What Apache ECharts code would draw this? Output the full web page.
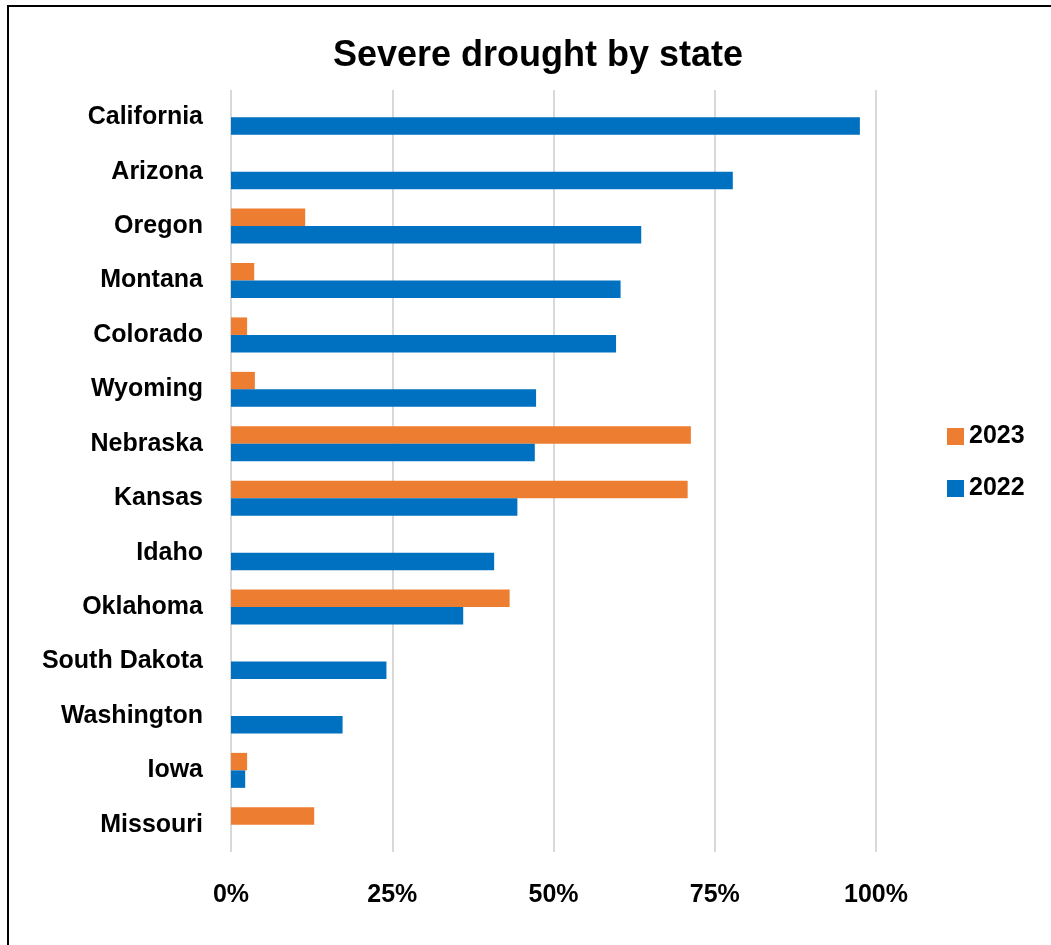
<!DOCTYPE html>
<html>
<head>
<meta charset="utf-8">
<script src="https://cdn.jsdelivr.net/npm/echarts@6/dist/echarts.min.js"></script>
<style>
html, body { margin: 0; padding: 0; background: #fff; }
#main { width: 1051px; height: 945px; }
</style>
</head>
<body>
<div id="main"></div>
<script>
// 州名（自上而下）
var states = ["California", "Arizona", "Oregon", "Montana", "Colorado", "Wyoming", "Nebraska",
	"Kansas", "Idaho", "Oklahoma", "South Dakota", "Washington", "Iowa", "Missouri"];
// 2023 年严重干旱比例 (%)
var data2023 = [0, 0, 11.5, 3.6, 2.5, 3.7, 71.3, 70.8, 0, 43.2, 0, 0, 2.5, 12.9];
// 2022 年严重干旱比例 (%)
var data2022 = [97.5, 77.8, 63.6, 60.4, 59.7, 47.3, 47.1, 44.4, 40.8, 36, 24.1, 17.3, 2.2, 0];
var xTicks = [0, 25, 50, 75, 100];

var FONT = "'Liberation Sans', Arial, sans-serif";

var myChart = echarts.init(document.getElementById('main'));

option = {
	backgroundColor: '#fff',
	animation: false,
	title: {
		text: 'Severe drought by state',
		left: 533,
		top: 33,
		textAlign: 'center',
		textStyle: { fontFamily: FONT, fontSize: 36, fontWeight: 'bold', color: '#000' }
	},
	legend: {
		orient: 'vertical',
		left: 942,
		top: 419,
		itemWidth: 17,
		itemHeight: 17,
		itemGap: 27,
		icon: 'rect',
		data: ['2023', '2022'],
		textStyle: { fontFamily: FONT, fontSize: 25, fontWeight: 'bold', color: '#000' }
	},
	graphic: [{
		type: 'rect',
		shape: { x: 8, y: 6, width: 1100, height: 1000 },
		style: { fill: 'none', stroke: '#000', lineWidth: 2 },
		z: 100
	}],
	grid: {
		left: 231,
		right: 175,
		top: 90,
		bottom: 93
	},
	xAxis: {
		type: 'value',
		min: xTicks[0],
		max: xTicks[xTicks.length - 1],
		interval: 25,
		axisLine: { show: false },
		axisTick: { show: false },
		splitLine: { lineStyle: { color: '#d9d9d9', width: 2 } },
		axisLabel: {
			margin: 31,
			formatter: '{value}%',
			fontFamily: FONT, fontSize: 25, fontWeight: 'bold', color: '#000'
		}
	},
	yAxis: {
		type: 'category',
		inverse: true,
		data: states,
		axisLine: { show: false },
		axisTick: { show: false },
		axisLabel: {
			margin: 28,
			fontFamily: FONT, fontSize: 25, fontWeight: 'bold', color: '#000'
		}
	},
	series: [{
		name: '2023',
		type: 'bar',
		data: data2023,
		barWidth: 17.5,
		barGap: '0%',
		itemStyle: { color: '#ed7d31' }
	}, {
		name: '2022',
		type: 'bar',
		data: data2022,
		barWidth: 17.5,
		barGap: '0%',
		itemStyle: { color: '#0070c0' }
	}]
};

myChart.setOption(option);
</script>
</body>
</html>
